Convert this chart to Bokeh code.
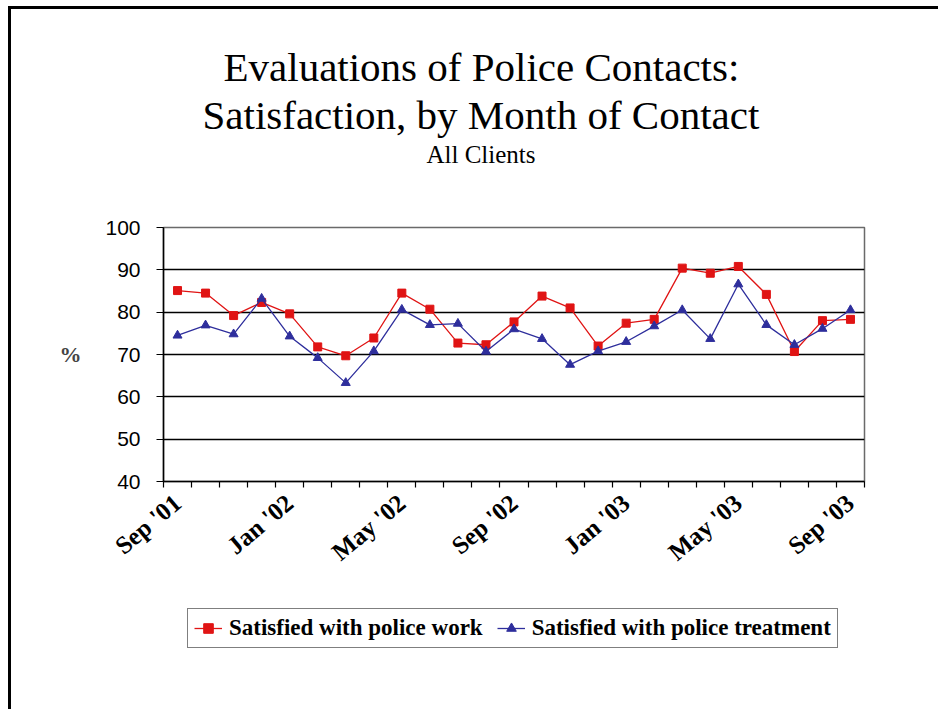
import math
from bokeh.plotting import figure
from bokeh.layouts import column
from bokeh.models import (ColumnDataSource, Range1d, FixedTicker, Legend,
                          LegendItem, Title)
from bokeh.embed import file_html
from bokeh.resources import INLINE

# Monthly satisfaction (%), Sep 2001 - Sep 2003
months = ["Sep '01", "Oct '01", "Nov '01", "Dec '01",
          "Jan '02", "Feb '02", "Mar '02", "Apr '02",
          "May '02", "Jun '02", "Jul '02", "Aug '02",
          "Sep '02", "Oct '02", "Nov '02", "Dec '02",
          "Jan '03", "Feb '03", "Mar '03", "Apr '03",
          "May '03", "Jun '03", "Jul '03", "Aug '03", "Sep '03"]
police_work = [85.1, 84.5, 79.2, 82.3, 79.6, 71.8, 69.7, 73.9,
               84.5, 80.7, 72.7, 72.3, 77.7, 83.8, 81.0, 72.0,
               77.4, 78.3, 90.4, 89.2, 90.8, 84.2, 70.7, 78.0, 78.3]
police_treatment = [74.5, 76.9, 74.8, 83.2, 74.3, 69.2, 63.3, 70.8,
                    80.6, 77.0, 77.3, 70.7, 76.0, 73.7, 67.6, 70.8,
                    73.0, 76.7, 80.5, 73.7, 86.6, 77.0, 72.3, 76.1, 80.5]
y_ticks = [40, 50, 60, 70, 80, 90, 100]
series_names = ["Satisfied with police work", "Satisfied with police treatment"]

idx = list(range(len(months)))
src = ColumnDataSource(dict(x=idx, work=police_work, treat=police_treatment,
                            month=months))

RED = "#E01414"
BLUE = "#2E2E9C"
SERIF = "Liberation Serif"

p = figure(frame_width=701, frame_height=254,
           x_range=Range1d(-0.5, len(months) - 0.5),
           y_range=Range1d(40, 100),
           output_backend="svg", toolbar_location=None,
           min_border_left=152, min_border_right=74,
           min_border_top=218, min_border_bottom=120)

p.background_fill_color = "white"
p.border_fill_color = "white"
p.outline_line_color = "#6a6a6a"
p.outline_line_width = 1.5


def title(text, size, offset, standoff):
    return Title(text=text, align="left", offset=offset, standoff=standoff,
                 text_font=SERIF, text_font_size=size,
                 text_font_style="normal", text_color="black")


# title block, added from the frame outwards
p.add_layout(title(" ", "10px", 0, 46), "above")
p.add_layout(title("All Clients", "25px", 263, 2), "above")
p.add_layout(title("Satisfaction, by Month of Contact", "41px", 39, 0), "above")
p.add_layout(title("Evaluations of Police Contacts:", "41px", 60, 0), "above")
p.add_layout(title(" ", "10px", 0, 11), "above")

# x axis: labels every fourth month, tick marks between months
label_pos = idx[::4]
xa = p.xaxis[0]
xa.ticker = FixedTicker(ticks=label_pos,
                        minor_ticks=[i - 0.5 for i in range(len(months) + 1)])
xa.major_label_overrides = {i: months[i] for i in label_pos}
xa.major_label_orientation = math.radians(40)
xa.major_tick_in = 0
xa.major_tick_out = 0
xa.minor_tick_in = 0
xa.minor_tick_out = 6
xa.minor_tick_line_color = "black"
xa.minor_tick_line_width = 1.2
xa.axis_line_color = "black"
xa.axis_line_width = 1.5
xa.major_label_standoff = 12
xa.major_label_text_font = SERIF
xa.major_label_text_font_style = "bold"
xa.major_label_text_font_size = "25px"
xa.major_label_text_color = "black"

# y axis
ya = p.yaxis[0]
ya.ticker = FixedTicker(ticks=y_ticks)
ya.minor_tick_line_color = None
ya.major_tick_in = 0
ya.major_tick_out = 7
ya.major_tick_line_color = "black"
ya.major_tick_line_width = 1.2
ya.axis_line_color = "black"
ya.axis_line_width = 1.5
ya.major_label_text_font = "Liberation Sans"
ya.major_label_text_font_size = "21px"
ya.major_label_text_color = "black"
ya.major_label_standoff = 16
ya.axis_label = "%"
ya.axis_label_orientation = "horizontal"
ya.axis_label_text_font = SERIF
ya.axis_label_text_font_style = "bold"
ya.axis_label_text_font_size = "22px"
ya.axis_label_standoff = 21

p.xgrid.grid_line_color = None
p.ygrid.grid_line_color = "black"
p.ygrid.grid_line_width = 1.4

line_style = dict(line_width=1.3)
red_marker = dict(marker="square", size=8, fill_color=RED, line_color=RED)
blue_marker = dict(marker="triangle", size=9, fill_color=BLUE, line_color=BLUE)

# series
p.line("x", "work", source=src, color=RED, **line_style)
p.scatter("x", "work", source=src, **red_marker)
p.line("x", "treat", source=src, color=BLUE, **line_style)
p.scatter("x", "treat", source=src, **blue_marker)

# legend strip below the chart; its key renderers share the series data,
# which lies outside this strip's view, so only the legend keys show
leg = figure(frame_width=927, frame_height=108,
             x_range=Range1d(0, 1), y_range=Range1d(0, 1),
             output_backend="svg", toolbar_location=None,
             x_axis_location=None, y_axis_location=None,
             min_border=0)
leg.outline_line_color = None
leg.grid.grid_line_color = None
leg.background_fill_color = "white"
leg.border_fill_color = "white"
k1 = leg.line("x", "work", source=src, color=RED, **line_style)
k2 = leg.scatter("x", "work", source=src, **red_marker)
k3 = leg.line("x", "treat", source=src, color=BLUE, **line_style)
k4 = leg.scatter("x", "treat", source=src, **blue_marker)

legend = Legend(items=[
    LegendItem(label=series_names[0], renderers=[k1, k2]),
    LegendItem(label=series_names[1], renderers=[k3, k4]),
], orientation="horizontal", location=(176, 61))
legend.label_text_font = SERIF
legend.label_text_font_style = "bold"
legend.label_text_font_size = "23px"
legend.label_text_color = "black"
legend.border_line_color = "black"
legend.border_line_width = 1.2
legend.glyph_width = 28
legend.glyph_height = 24
legend.label_height = 24
legend.label_standoff = 7
legend.spacing = 14
legend.padding = 6
legend.margin = 0
legend.background_fill_alpha = 1.0
leg.add_layout(legend, "center")

page = column(p, leg, spacing=0)
page.styles = {"border-top": "3px solid black",
               "border-left": "3px solid black",
               "margin-left": "8px", "margin-top": "6px"}

open("out.html", "w").write(file_html(page, INLINE))
